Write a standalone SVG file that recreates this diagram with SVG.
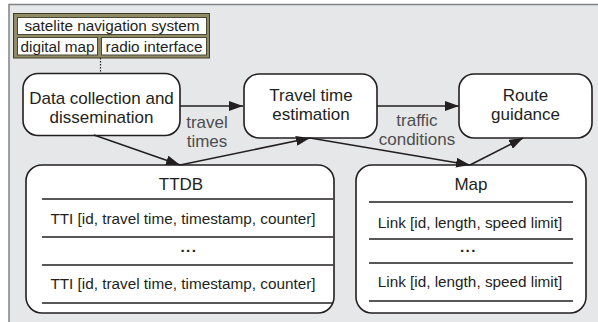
<svg xmlns="http://www.w3.org/2000/svg" width="598" height="322" viewBox="0 0 598 322">
  <defs>
    <style>
      .box { fill: #ffffff; stroke: #231f20; stroke-width: 1.6; }
      .sep { stroke: #231f20; stroke-width: 1.6; }
      .cell { fill: #ffffff; stroke: #4a4736; stroke-width: 1; }
      .t { font-family: "Liberation Sans", Arial, sans-serif; fill: #231f20; text-anchor: middle; }
      .big { font-size: 17px; }
      .small { font-size: 15.3px; }
      .dots { font-size: 15.3px; font-weight: bold; letter-spacing: 1.5px; }
      .lbl { font-size: 17px; fill: #4d4d4f; }
      .edge { stroke: #231f20; stroke-width: 1.6; fill: none; }
    </style>
    <marker id="arrow" viewBox="0 0 14 10" refX="14" refY="5" markerWidth="14" markerHeight="10" markerUnits="userSpaceOnUse" orient="auto">
      <path d="M0,0 L14,5 L0,10 Z" fill="#231f20"/>
    </marker>
  </defs>

  <!-- background panel -->
  <rect x="9" y="4.5" width="600" height="330" fill="#e6e7e8" stroke="#808285" stroke-width="1.5"/>

  <!-- device components -->
  <g id="device">
    <rect x="13.5" y="13.5" width="196" height="44.5" fill="#8f8b64" stroke="#3d3a2a" stroke-width="1"/>
    <rect class="cell" x="17.5" y="17.5" width="189" height="17"/>
    <rect class="cell" x="17.5" y="37.5" width="80" height="17.5"/>
    <rect class="cell" x="101.5" y="37.5" width="105" height="17.5"/>
    <text class="t small" x="112" y="31">satelite navigation system</text>
    <text class="t small" x="57.5" y="51.5">digital map</text>
    <text class="t small" x="154" y="51.5">radio interface</text>
  </g>

  <!-- processing steps -->
  <g id="collection">
    <rect class="box" x="23" y="73.5" width="157" height="62" rx="15"/>
    <text class="t big" x="101.5" y="104">Data collection and</text>
    <text class="t big" x="101.5" y="123">dissemination</text>
  </g>
  <g id="estimation">
    <rect class="box" x="244" y="74" width="133" height="64" rx="15"/>
    <text class="t big" x="311" y="101">Travel time</text>
    <text class="t big" x="311" y="120">estimation</text>
  </g>
  <g id="guidance">
    <rect class="box" x="459" y="74" width="133" height="64" rx="15"/>
    <text class="t big" x="525.5" y="101">Route</text>
    <text class="t big" x="525.5" y="120">guidance</text>
  </g>

  <!-- data stores -->
  <g id="ttdb">
    <rect class="box" x="26" y="165" width="308" height="148" rx="16"/>
    <text class="t big" x="181" y="190">TTDB</text>
    <line class="sep" x1="42" y1="199" x2="333" y2="199"/>
    <text class="t small" x="183" y="223.5">TTI [id, travel time, timestamp, counter]</text>
    <line class="sep" x1="42" y1="237" x2="333" y2="237"/>
    <text class="t dots" x="189" y="251.5">...</text>
    <line class="sep" x1="42" y1="265" x2="333" y2="265"/>
    <text class="t small" x="183" y="288.5">TTI [id, travel time, timestamp, counter]</text>
    <line class="sep" x1="42" y1="303" x2="333" y2="303"/>
  </g>
  <g id="map">
    <rect class="box" x="356" y="165" width="230" height="148" rx="16"/>
    <text class="t big" x="471" y="189.5">Map</text>
    <line class="sep" x1="369" y1="202" x2="573" y2="202"/>
    <text class="t small" x="470" y="228">Link [id, length, speed limit]</text>
    <line class="sep" x1="369" y1="239" x2="573" y2="239"/>
    <text class="t dots" x="468.5" y="252">...</text>
    <line class="sep" x1="369" y1="263" x2="573" y2="263"/>
    <text class="t small" x="470" y="286.5">Link [id, length, speed limit]</text>
    <line class="sep" x1="369" y1="301" x2="573" y2="301"/>
  </g>

  <!-- connectors -->
  <g id="connectors">
    <line x1="100.5" y1="58" x2="100.5" y2="73.5" stroke="#231f20" stroke-width="1.2" stroke-dasharray="1.5,1.5"/>
    <line class="edge" x1="180" y1="106" x2="243" y2="106" marker-end="url(#arrow)"/>
    <line class="edge" x1="377" y1="106" x2="459" y2="106" marker-end="url(#arrow)"/>
    <line class="edge" x1="94" y1="135" x2="180" y2="165" marker-end="url(#arrow)"/>
    <line class="edge" x1="180" y1="165" x2="310" y2="138" marker-end="url(#arrow)"/>
    <line class="edge" x1="310" y1="138" x2="470" y2="165" marker-end="url(#arrow)"/>
    <line class="edge" x1="470" y1="165" x2="523" y2="138" marker-end="url(#arrow)"/>
    <text class="t lbl" x="207" y="128">travel</text>
    <text class="t lbl" x="207" y="146.5">times</text>
    <text class="t lbl" x="417" y="126">traffic</text>
    <text class="t lbl" x="417" y="145">conditions</text>
  </g>
</svg>
